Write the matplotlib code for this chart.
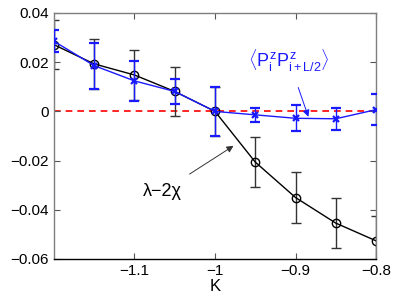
import matplotlib
matplotlib.use("Agg")
import matplotlib.pyplot as plt

plt.rcParams['font.family'] = ['Liberation Sans', 'DejaVu Sans']
plt.rcParams['mathtext.fontset'] = 'custom'
plt.rcParams['mathtext.rm'] = 'Liberation Sans'
plt.rcParams['mathtext.it'] = 'Liberation Sans'
plt.rcParams['mathtext.bf'] = 'Liberation Sans:bold'

K = [-1.2, -1.15, -1.1, -1.05, -1.0, -0.95, -0.9, -0.85, -0.8]
lam_chi = [0.0271, 0.0193, 0.0148, 0.0081, 0.0, -0.0206, -0.0350, -0.0454, -0.0526]
lam_chi_err = [0.010, 0.010, 0.010, 0.010, 0.0098, 0.0101, 0.0103, 0.0101, 0.0102]
pp = [0.0285, 0.0186, 0.0124, 0.0081, 0.0, -0.0014, -0.0028, -0.0030, 0.0007]
pp_err = [0.0045, 0.0093, 0.0082, 0.0050, 0.0098, 0.0029, 0.0053, 0.0044, 0.0062]
xtick_vals = [-1.1, -1.0, -0.9, -0.8]
xtick_labels = ['\u22121.1', '\u22121', '\u22120.9', '\u22120.8']
ytick_vals = [-0.06, -0.04, -0.02, 0.0, 0.02, 0.04]
ytick_labels = ['\u22120.06', '\u22120.04', '\u22120.02', '0', '0.02', '0.04']

fig = plt.figure(figsize=(4.15, 3.01), dpi=100)
ax = fig.add_axes([54/415, 42/301, 322/415, 246/301])

ax.axhline(0, color='red', linestyle=(0, (4, 3)), linewidth=1.2, zorder=1)

ax.errorbar(K, lam_chi, yerr=lam_chi_err, color='black', ecolor='#333333',
            marker='o', markersize=6, markerfacecolor='none', markeredgewidth=1.0,
            linewidth=1.0, elinewidth=1.0, capsize=3.5, capthick=1.0, zorder=2)
ax.errorbar(K, pp, yerr=pp_err, color='#1a1aff', ecolor='#1a1aff',
            marker='x', markersize=4, markeredgewidth=1.6,
            linewidth=1.0, elinewidth=1.0, capsize=3.5, capthick=1.0, zorder=3)

ax.set_xlim(-1.2, -0.8)
ax.set_ylim(-0.06, 0.04)
ax.set_xticks(xtick_vals)
ax.set_xticklabels(xtick_labels)
ax.set_yticks(ytick_vals)
ax.set_yticklabels(ytick_labels)
ax.tick_params(direction='in', length=4, width=0.8, top=True, right=True,
               labelsize=11, colors='#555555', labelcolor='black')
ax.set_xlabel('K', fontsize=12, labelpad=1)

for s in ['left', 'top', 'right']:
    ax.spines[s].set_color('#7f7f7f')
    ax.spines[s].set_linewidth(1.0)
ax.spines['bottom'].set_color('black')
ax.spines['bottom'].set_linewidth(1.0)

ax.annotate(r'$\langle P^z_i P^z_{i+L/2}\rangle$', xy=(-0.884, -0.0022), xytext=(-0.908, 0.0205),
            color='#1a1aff', fontsize=13, ha='center', va='center',
            arrowprops=dict(arrowstyle='-|>', color='#1a1aff', lw=0.7,
                            shrinkA=8, shrinkB=0, mutation_scale=10))
ax.annotate('\u03bb\u22122\u03c7', xy=(-0.977, -0.014), xytext=(-1.065, -0.0325),
            color='black', fontsize=13, ha='center', va='center',
            arrowprops=dict(arrowstyle='-|>', color='#333333', lw=0.7,
                            shrinkA=8, shrinkB=0, mutation_scale=10))

fig.savefig('out.png', dpi=100)
